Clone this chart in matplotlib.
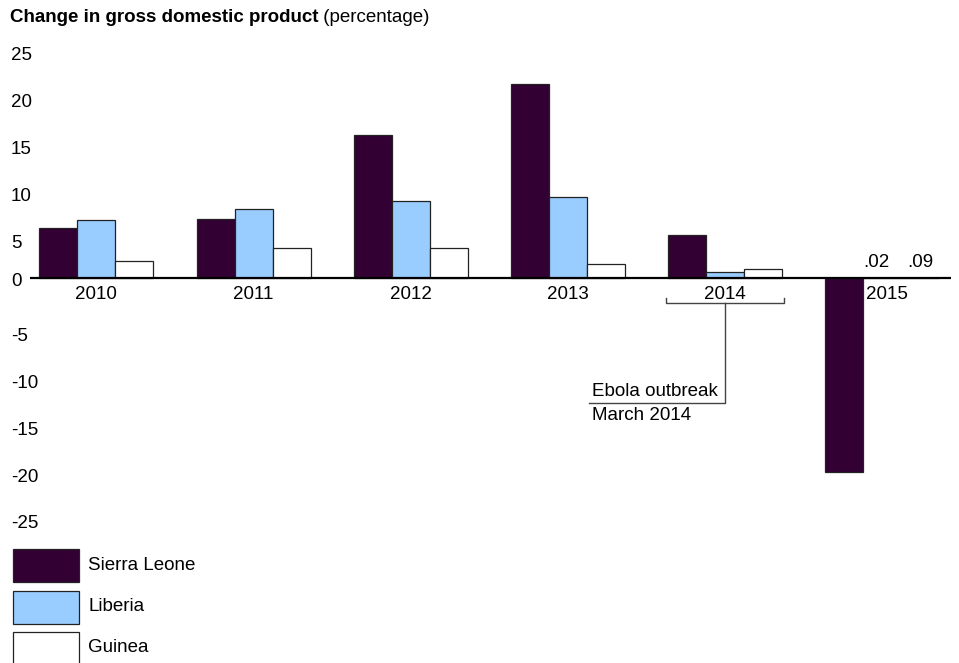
import matplotlib
matplotlib.use("Agg")
import matplotlib.pyplot as plt
from matplotlib.patches import Rectangle
import matplotlib.transforms as mtransforms
import numpy as np

plt.rcParams['font.family'] = ['Liberation Sans', 'DejaVu Sans']

years = ['2010', '2011', '2012', '2013', '2014', '2015']
countries = ['Sierra Leone', 'Liberia', 'Guinea']
sierra_leone = [5.4, 6.3, 15.3, 20.8, 4.6, -20.7]
liberia = [6.2, 7.45, 8.3, 8.7, 0.7, 0.02]
guinea = [1.9, 3.3, 3.2, 1.5, 1.0, 0.09]
series = [sierra_leone, liberia, guinea]
colors = ['#330033', '#99ccff', '#ffffff']
yticks = [25, 20, 15, 10, 5, 0, -5, -10, -15, -20, -25]
labels_2015 = ['.02', '.09']

W, H = 959, 663
FS = 13.5
fig = plt.figure(figsize=(W / 100, H / 100), dpi=100)
ax = fig.add_axes([0, 0, 1, 1])
ax.set_axis_off()

# pixel calibration
y0_px = 278.4
ppu = 9.36          # pixels per unit
x0_px = 96.3        # center of first group
gpx = 157.2         # pixels between group centers
ax.set_ylim(-(H - y0_px) / ppu, y0_px / ppu)
ax.set_xlim(-x0_px / gpx, (W - x0_px) / gpx)

bw = 38 / gpx
x = np.arange(len(years))
for i, (vals, c) in enumerate(zip(series, colors)):
    ax.bar(x + (i - 1) * bw, vals, width=bw, color=c, edgecolor='#222222',
           linewidth=0.9, zorder=3)

# zero line
ax.plot([(30 - x0_px) / gpx, (950.7 - x0_px) / gpx], [0, 0], color='black',
        lw=1.6, zorder=4, solid_capstyle='butt')

# year labels
for xi, yr in zip(x, years):
    ax.text(xi + (0.03 if yr == '2015' else 0), -1.7, yr, ha='center', va='center',
            fontsize=FS)

# 2015 small value labels
for j, lab in enumerate(labels_2015):
    ax.text(5 + j * bw - 0.035 + j * 0.035, 1.7, lab, ha='center', va='center', fontsize=FS)

# y tick labels
for v in yticks:
    off = -3 if v == 0 else -11.5
    tr = ax.transData + mtransforms.ScaledTranslation(0, off / 100, fig.dpi_scale_trans)
    ax.text(11 / gpx - x0_px / gpx, v, str(v), ha='left', va='center', fontsize=FS,
            transform=tr)

# Ebola bracket
bl, br = 4 - 0.375, 4 + 0.375
yb = -2.66
ax.plot([bl, bl, br, br], [-2.09, yb, yb, -2.09], color='#444444', lw=1.0, zorder=4)
xl = (589.3 - x0_px) / gpx
ax.plot([4, 4, xl], [yb, -13.34, -13.34], color='#444444', lw=1.0, zorder=4)
ax.text((592 - x0_px) / gpx, -13.0, 'Ebola outbreak', ha='left', va='bottom', fontsize=FS)
ax.text((592 - x0_px) / gpx, -13.7, 'March 2014', ha='left', va='top', fontsize=FS)

# title
t1 = fig.text(10 / W, 1 - 18 / H, 'Change in gross domestic product', fontsize=13.5,
              fontweight='bold', ha='left', va='center')
ax.annotate(' (percentage)', xy=(1, 0), xycoords=t1, va='bottom', ha='left',
            fontsize=13.5)

# legend
leg_y = [549.3, 590.7, 631.5]
for c, name, ly in zip(colors, countries, leg_y):
    fig.patches.append(Rectangle((13 / W, 1 - (ly + 33) / H), 66 / W, 33 / H,
                                 transform=fig.transFigure, facecolor=c,
                                 edgecolor='#222222', linewidth=0.9))
    fig.text(88 / W, 1 - (ly + 16) / H, name, fontsize=FS, ha='left', va='center')

fig.savefig('out.png', dpi=100)
